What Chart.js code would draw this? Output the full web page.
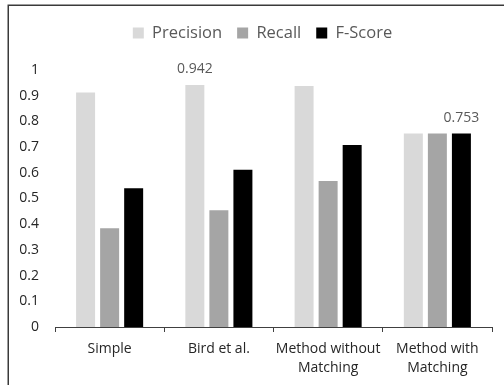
<!DOCTYPE html>
<html>
<head>
<meta charset="utf-8">
<script src="https://cdn.jsdelivr.net/npm/chart.js@4/dist/chart.umd.min.js"></script>
<style>
  html, body { margin: 0; padding: 0; background: #fff; }
  #wrap { width: 504px; height: 385px; position: relative; }
</style>
</head>
<body>
<div id="wrap"><canvas id="c" width="504" height="385"></canvas></div>
<script>
// Categories (multi-line labels as arrays)
const categories = [
  ['Simple'],
  ['Bird et al.'],
  ['Method without', 'Matching'],
  ['Method with', 'Matching']
];

// Series values
const precision = [0.912, 0.942, 0.938, 0.753];
const recall    = [0.384, 0.454, 0.568, 0.753];
const fScore    = [0.540, 0.612, 0.708, 0.753];

// Y-axis tick values
const yTicks = [0, 0.1, 0.2, 0.3, 0.4, 0.5, 0.6, 0.7, 0.8, 0.9, 1];

// Bars that carry a value label: [datasetIndex, categoryIndex]
const labelledBars = [[0, 1], [2, 3]];

Chart.defaults.font.family = "'Open Sans', sans-serif";

// Value labels above selected bars
const valueLabels = {
  id: 'valueLabels',
  afterDatasetsDraw(chart) {
    const ctx = chart.ctx;
    ctx.save();
    ctx.font = "14px 'Open Sans', sans-serif";
    ctx.fillStyle = '#595959';
    ctx.textAlign = 'center';
    ctx.textBaseline = 'alphabetic';
    labelledBars.forEach(([d, i]) => {
      const bar = chart.getDatasetMeta(d).data[i];
      const v = chart.data.datasets[d].data[i];
      ctx.fillText(v.toFixed(3), bar.x, bar.y - 11.5);
    });
    ctx.restore();
  }
};

// Moves the legend row up and to the right, leaving a gap above the plot
const legendPlacement = {
  id: 'legendPlacement',
  afterLayout(chart) {
    const l = chart.legend;
    if (!l) return;
    const dx = 16.5, dy = -18.75;
    l.left += dx; l.right += dx;
    l.top += dy; l.bottom += dy;
  }
};

// White background and the outer frame lines (left and top edges)
const frame = {
  id: 'frame',
  beforeDraw(chart) {
    const ctx = chart.ctx;
    ctx.save();
    ctx.fillStyle = '#fff';
    ctx.fillRect(0, 0, chart.width, chart.height);
    ctx.strokeStyle = '#3a3a3a';
    ctx.lineWidth = 1.5;
    ctx.beginPath();
    ctx.moveTo(8.25, chart.height);
    ctx.lineTo(8.25, 5.25);
    ctx.lineTo(chart.width, 5.25);
    ctx.stroke();
    ctx.restore();
  }
};

new Chart(document.getElementById('c'), {
  type: 'bar',
  data: {
    labels: categories,
    datasets: [
      { label: 'Precision', data: precision, backgroundColor: '#d9d9d9' },
      { label: 'Recall',    data: recall,    backgroundColor: '#a5a5a5' },
      { label: 'F-Score',   data: fScore,    backgroundColor: '#000000' }
    ]
  },
  options: {
    responsive: false,
    animation: false,
    devicePixelRatio: 1,
    datasets: {
      bar: { barPercentage: 0.79, categoryPercentage: 0.66, borderWidth: 0 }
    },
    layout: { padding: { left: 0, right: 12, top: 0, bottom: 0 } },
    plugins: {
      legend: {
        position: 'top',
        labels: {
          boxWidth: 11,
          boxHeight: 11,
          padding: 15,
          color: '#595959',
          font: { size: 16.5 }
        }
      },
      tooltip: { enabled: false }
    },
    scales: {
      x: {
        grid: {
          display: true,
          drawOnChartArea: false,
          drawTicks: true,
          tickLength: 5,
          offset: true,
          color: '#404040',
          lineWidth: 1
        },
        border: { display: true, color: '#404040', width: 1 },
        ticks: {
          color: '#262626',
          padding: 7.5,
          maxRotation: 0,
          autoSkip: false,
          font: { size: 14, lineHeight: 1.35 }
        },
        afterFit(scale) { scale.height = 58; }
      },
      y: {
        min: 0,
        max: 1,
        grid: { display: false, drawTicks: false },
        border: { display: false },
        afterBuildTicks(scale) { scale.ticks = yTicks.map(v => ({ value: v })); },
        ticks: {
          color: '#262626',
          padding: 16,
          autoSkip: false,
          font: { size: 14 },
          callback: v => String(v)
        },
        afterFit(scale) {
          scale.width = 55;
          scale.paddingTop = 70;
        }
      }
    }
  },
  plugins: [frame, legendPlacement, valueLabels]
});
</script>
</body>
</html>
